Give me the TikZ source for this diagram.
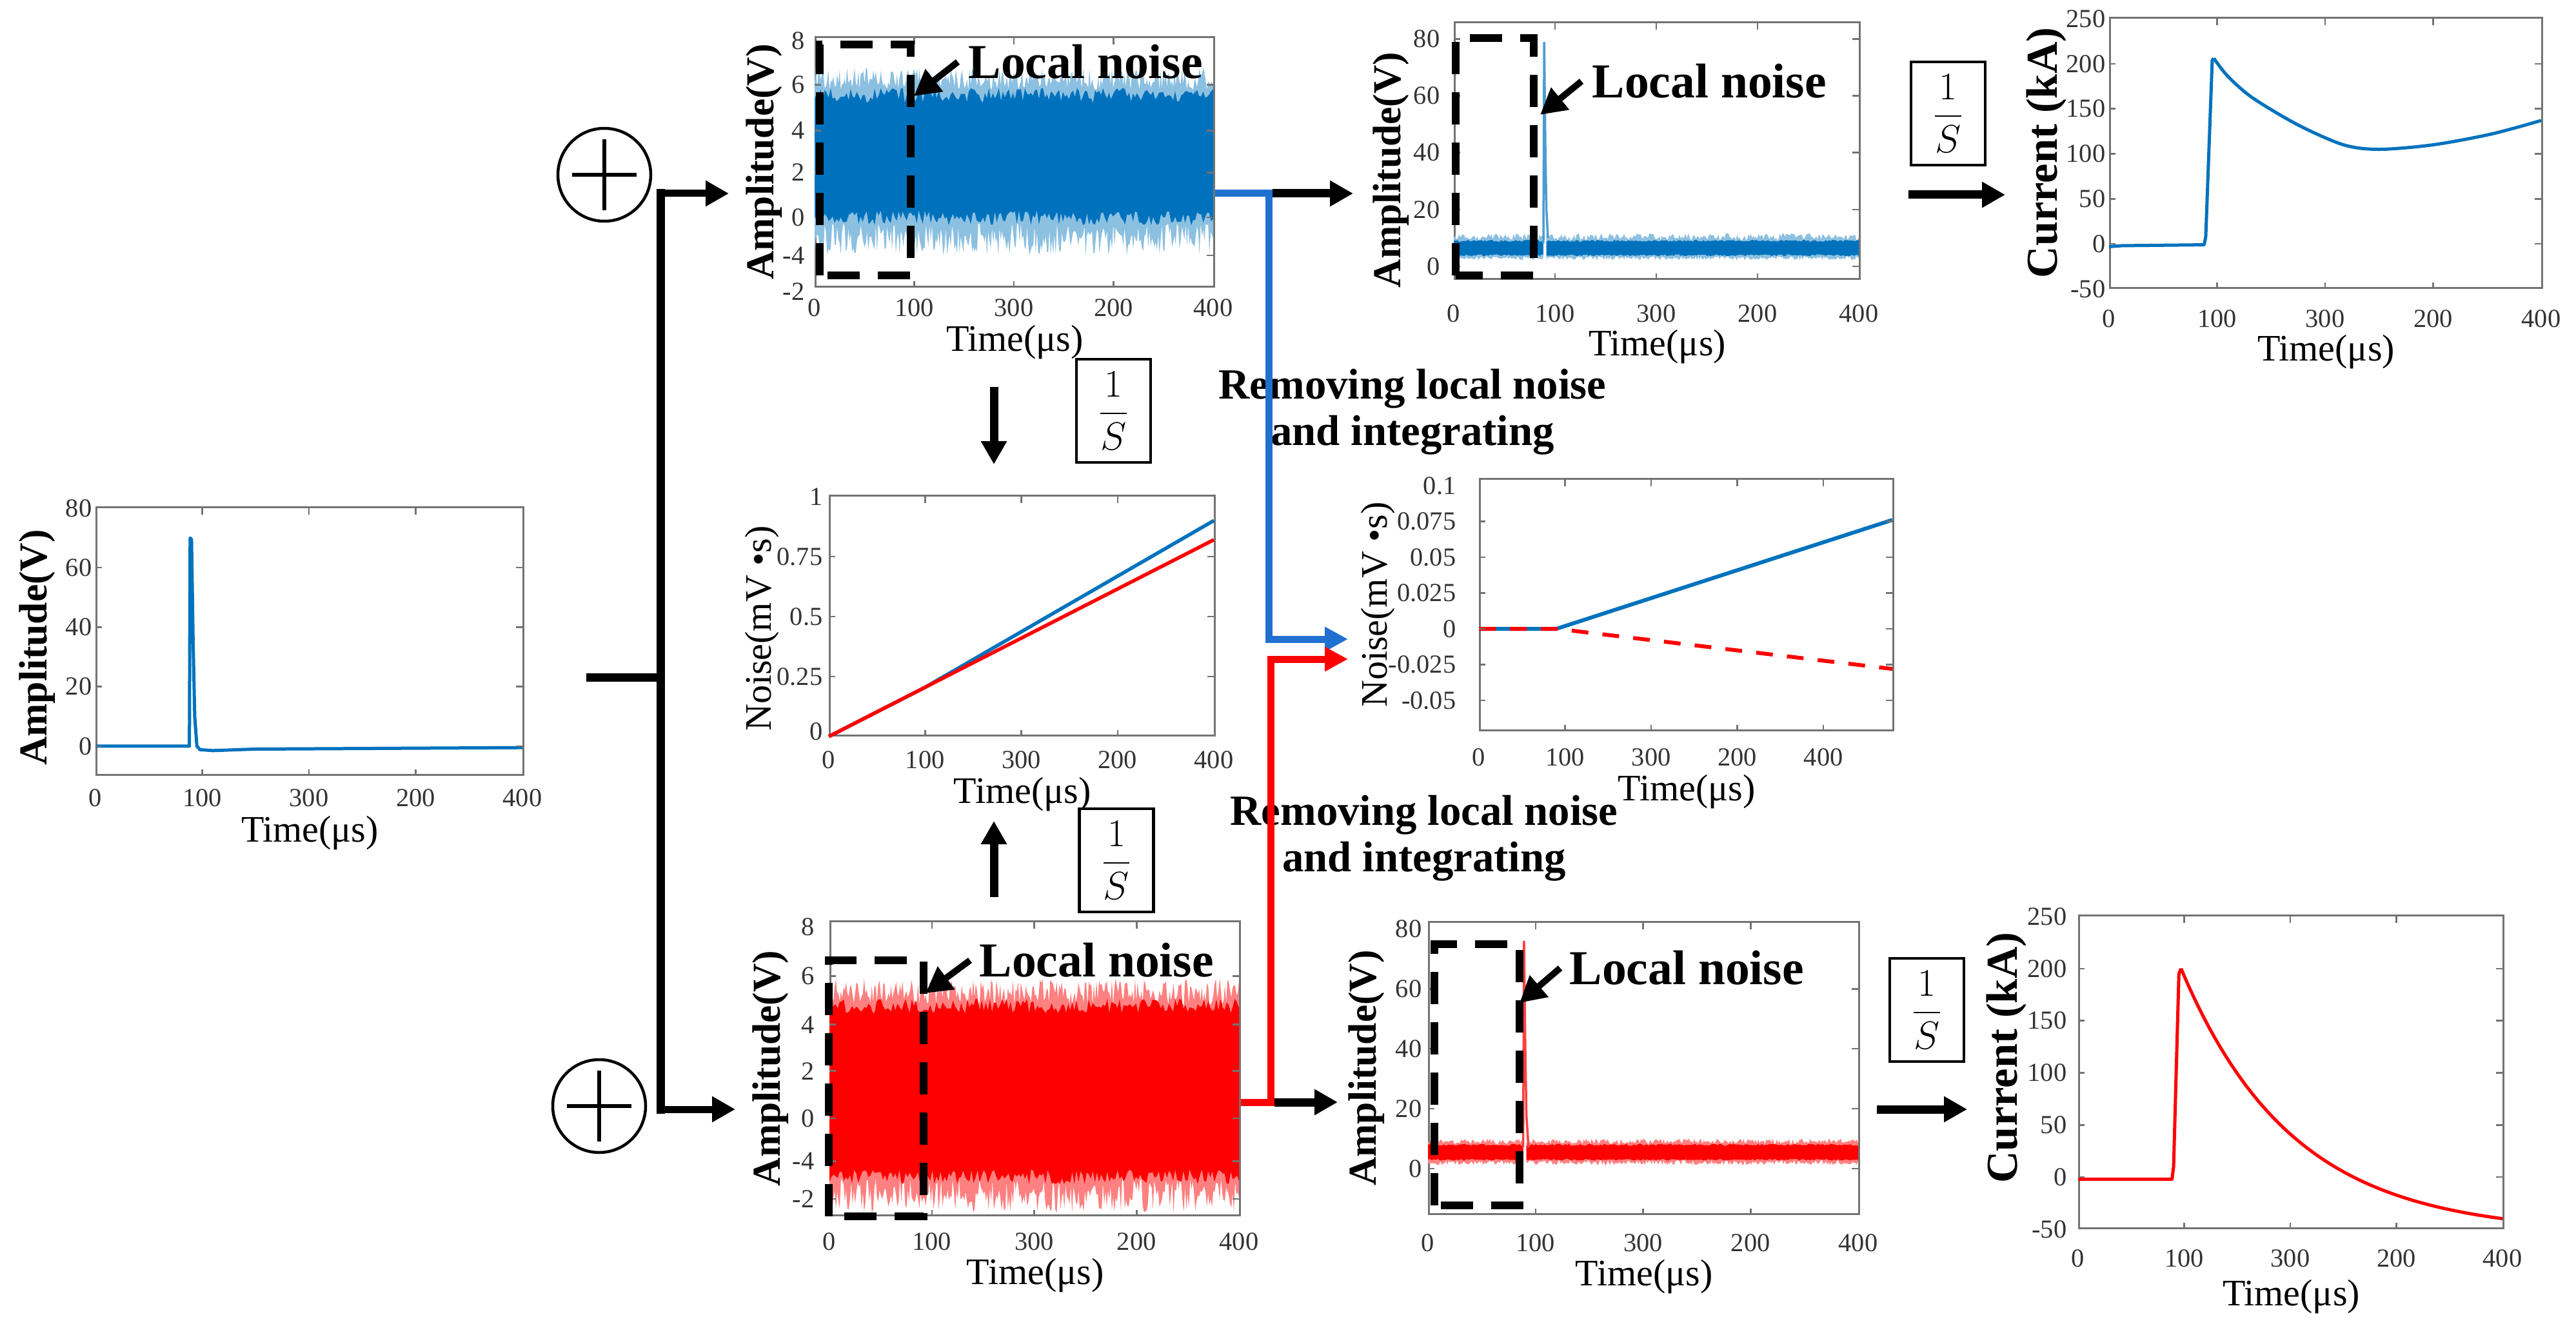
\documentclass[tikz,border=0pt]{standalone}
\usepackage{fontspec}
\setmainfont{Liberation Serif}
\usetikzlibrary{positioning,arrows.meta}
\definecolor{mblue}{RGB}{0,114,189}
\definecolor{linkblue}{RGB}{32,112,208}

\begin{document}
\begin{tikzpicture}[x=1mm, y=1mm]

\tikzstyle{axisbox} = [draw=black!55, line width=0.3mm, inner sep=0, anchor=south west]
\tikzstyle{tickmark} = [draw=black!55, line width=0.25mm]
\tikzstyle{ticklab} = [font=\fontsize{11.5}{11.5}\selectfont, text=black!80, inner sep=0.3mm]
\tikzstyle{timelab} = [font=\fontsize{16.5}{17}\selectfont, inner sep=0]
\tikzstyle{ytitle} = [font=\bfseries\fontsize{17.5}{18}\selectfont, rotate=90, inner sep=0]
\tikzstyle{ctitle} = [font=\bfseries\fontsize{19.5}{20}\selectfont, rotate=90, inner sep=0]
\tikzstyle{ntitle} = [font=\fontsize{16.5}{17}\selectfont, rotate=90, inner sep=0]
\tikzstyle{notelab} = [font=\bfseries\fontsize{21.5}{22}\selectfont, inner sep=0, anchor=west]
\tikzstyle{steplab} = [font=\bfseries\fontsize{19}{20.5}\selectfont, align=center, inner sep=0]
\tikzstyle{intbox} = [draw, line width=0.45mm, minimum width=11.5mm, minimum height=16mm, inner sep=0, font=\fontsize{16}{16}\selectfont]
\tikzstyle{sumnode} = [circle, draw, line width=0.45mm, minimum size=14.4mm, inner sep=0]
\tikzstyle{dashbox} = [draw, line width=1.25mm, dash pattern=on 5mm off 2.8mm]
\tikzstyle{flow} = [draw, line width=1.3mm, -{Triangle[length=3.6mm,width=3.8mm]}]
\tikzstyle{trunk} = [draw, line width=1.3mm]
\tikzstyle{bluelink} = [draw=linkblue, line width=1.1mm]
\tikzstyle{redlink} = [draw=red, line width=1.1mm]
\tikzstyle{linkhead} = [-{Triangle[length=3.6mm,width=3.6mm]}]
\tikzstyle{notearrow} = [draw, line width=1mm, -{Triangle[length=4mm,width=4.2mm]}]
\tikzstyle{blueline} = [draw=mblue, line width=0.5mm, line join=round]
\tikzstyle{redline} = [draw=red, line width=0.5mm, line join=round]

\useasboundingbox (0,0) rectangle (399.4,206.9);
\pgfmathsetseed{42}

% plot frames
\node[axisbox, minimum width=66.2mm, minimum height=41.5mm] (p0) at (14.8,86.6) {};
\node[axisbox, minimum width=61.8mm, minimum height=38.7mm] (p1) at (126.3,162.3) {};
\node[axisbox, minimum width=62.8mm, minimum height=39.8mm] (p2) at (225.4,163.5) {};
\node[axisbox, minimum width=67.0mm, minimum height=41.9mm] (p3) at (327.0,162.1) {};
\node[axisbox, minimum width=59.7mm, minimum height=37.2mm] (p5) at (128.5,92.7) {};
\node[axisbox, minimum width=64.1mm, minimum height=39.0mm] (p6) at (229.3,93.5) {};
\node[axisbox, minimum width=63.5mm, minimum height=45.6mm] (p4) at (128.6,18.3) {};
\node[axisbox, minimum width=66.7mm, minimum height=45.3mm] (p7) at (221.4,18.5) {};
\node[axisbox, minimum width=65.8mm, minimum height=48.5mm] (p8) at (322.2,16.3) {};

% input signal
\begin{scope}[shift={(p0.south west)}, x=0.1655mm, y=0.4611mm, yshift=4.611mm]
  \draw[blueline] (0,0) -- (88,0) -- (88.7,70) -- (90,69.5) -- (91.5,35) -- (93,10) -- (95,0) -- (98,-1.2) -- (110,-1.5) -- (150,-1) -- (250,-0.8) -- (400,-0.5);
  \foreach \v in {0,20,40,60,80} \node[ticklab, left=0.2mm] at (0,\v) {\v};
  \foreach \t/\l in {0/0,100/100,200/300,300/200,400/400} \node[ticklab] at ([yshift=-3.4mm]\t,-10) {\l};
  \foreach \t in {100,200,300} \draw[tickmark] (\t,-10) -- ++(0,1mm) (\t,80) -- ++(0,-1mm);
  \foreach \v in {0,20,40,60} \draw[tickmark] (0,\v) -- ++(1mm,0) (400,\v) -- ++(-1mm,0);
\end{scope}
\node[timelab] at ([yshift=-8.9mm]p0.south) {Time(μs)};
\node[ytitle] at ([xshift=-9mm, yshift=-1mm]p0.west) {Amplitude(V)};

% blue noise
\begin{scope}[shift={(p1.south west)}, x=0.1545mm, y=38.7mm]
  \fill[mblue!45!white] plot[domain=0:400, samples=320] (\x,{0.79+0.09*rnd}) -- plot[domain=400:0, samples=320] (\x,{0.26-0.13*rnd}) -- cycle;
  \fill[mblue] plot[domain=0:400, samples=200] (\x,{0.74+0.06*rnd}) -- plot[domain=400:0, samples=200] (\x,{0.31-0.06*rnd}) -- cycle;
  \foreach \f/\l in {0.99/8,0.812/6,0.629/4,0.461/2,0.282/0,0.129/-4,-0.015/-2} \node[ticklab, left=1.2mm] at (0,\f) {\l};
  \foreach \f in {0.812,0.629,0.461,0.282,0.129} \draw[tickmark] (0,\f) -- ++(1mm,0) (400,\f) -- ++(-1mm,0);
  \foreach \t/\l in {0/0,100/100,200/300,300/200,400/400} \node[ticklab] at ([yshift=-3.1mm]\t,0) {\l};
  \foreach \t in {100,200,300} \draw[tickmark] (\t,0) -- ++(0,1mm) (\t,1) -- ++(0,-1mm);
\end{scope}
\node[timelab] at ([yshift=-8.5mm]p1.south) {Time(μs)};
\node[ytitle] at ([xshift=-7.8mm]p1.west) {Amplitude(V)};

% blue noise after removal
\begin{scope}[shift={(p2.south west)}, x=0.157mm, y=0.4403mm, yshift=2.113mm]
  \fill[mblue!45!white] plot[domain=0:88.5, samples=70] (\x,{9.2+2.4*rnd}) -- plot[domain=88.5:0, samples=70] (\x,{3.6-1.4*rnd}) -- cycle;
  \fill[mblue!45!white] plot[domain=91.5:400, samples=250] (\x,{9.2+2.4*rnd}) -- plot[domain=400:91.5, samples=250] (\x,{3.6-1.4*rnd}) -- cycle;
  \fill[mblue] plot[domain=0:88.5, samples=50] (\x,{8.6+0.7*rnd}) -- plot[domain=88.5:0, samples=50] (\x,{4.2-0.6*rnd}) -- cycle;
  \fill[mblue] plot[domain=91.5:400, samples=180] (\x,{8.6+0.7*rnd}) -- plot[domain=400:91.5, samples=180] (\x,{4.2-0.6*rnd}) -- cycle;
  \draw[mblue!70!white, line width=0.35mm] (88.5,8) -- (89.3,79) -- (90.5,40) -- (91.5,20) -- (93,10);
  \foreach \v in {0,20,40,60,80} \node[ticklab, left=1.8mm] at (0,\v) {\v};
  \foreach \v in {0,20,40,60,80} \draw[tickmark] (0,\v) -- ++(1mm,0) (400,\v) -- ++(-1mm,0);
  \foreach \t/\l in {0/0,100/100,200/300,300/200,400/400} \node[ticklab] at ([yshift=-5.2mm]\t,-4.8) {\l};
  \foreach \t in {100,200,300} \draw[tickmark] (\t,-4.8) -- ++(0,1mm) (\t,85.6) -- ++(0,-1mm);
\end{scope}
\node[timelab] at ([yshift=-10.4mm]p2.south) {Time(μs)};
\node[ytitle] at ([xshift=-9.75mm, yshift=-3mm]p2.west) {Amplitude(V)};

% blue current
\begin{scope}[shift={(p3.south west)}, x=0.1675mm, y=0.13967mm, yshift=6.983mm]
  \draw[blueline] (0,-3) -- (12,-2) -- (88,-1) -- (89.5,8) -- (95.5,204) -- (97,206);
  \draw[blueline] plot[smooth] coordinates {(97,206) (110,186) (133,162) (175,132) (217,110) (250,105) (300,110) (354,122) (400,137)};
  \foreach \v in {-50,0,50,100,150,200,250} \node[ticklab, left=0.2mm] at (0,\v) {\v};
  \foreach \v in {0,50,100,150,200} \draw[tickmark] (0,\v) -- ++(1mm,0) (400,\v) -- ++(-1mm,0);
  \foreach \t/\l in {0/0,100/100,200/300,300/200,400/400} \node[ticklab] at ([yshift=-4.6mm]\t,-50) {\l};
  \foreach \t in {100,200,300} \draw[tickmark] (\t,-50) -- ++(0,1mm) (\t,250) -- ++(0,-1mm);
\end{scope}
\node[timelab] at ([yshift=-9.8mm]p3.south) {Time(μs)};
\node[ctitle] at ([xshift=-9.7mm]p3.west) {Current (kA)};

% integrated noise
\begin{scope}[shift={(p5.south west)}, x=0.14925mm, y=37.2mm]
  \draw[blueline, line width=0.55mm] (0,0) -- (100,0.205) -- (400,0.9);
  \draw[redline, line width=0.55mm] (0,0) -- (400,0.82);
  \foreach \v/\l in {1/1,0.75/0.75,0.5/0.5,0.25/0.25,0.02/0} \node[ticklab, left=0.6mm] at (0,\v) {\l};
  \foreach \v in {0.25,0.5,0.75} \draw[tickmark] (0,\v) -- ++(1mm,0) (400,\v) -- ++(-1mm,0);
  \foreach \t/\l in {0/0,100/100,200/300,300/200,400/400} \node[ticklab] at ([yshift=-3.6mm]\t,0) {\l};
  \foreach \t in {100,200,300} \draw[tickmark] (\t,0) -- ++(0,1mm) (\t,1) -- ++(0,-1mm);
\end{scope}
\node[timelab] at ([yshift=-9mm]p5.south) {Time(μs)};
\node[ntitle] at ([xshift=-10.3mm, yshift=-2mm]p5.west) {Noise(mV •s)};

% residual noise
\begin{scope}[shift={(p6.south west)}, x=0.13354mm, y=222.1mm, yshift=15.9mm]
  \draw[blueline, line width=0.6mm] (0,0) -- (90,0) -- (480,0.076);
  \draw[redline, line width=0.6mm, dash pattern=on 2.6mm off 2.2mm] (0,0) -- (90,0) -- (480,-0.028);
  \foreach \v in {0.1,0.075,0.05,0.025,0,-0.025,-0.05} \node[ticklab, left=3.2mm] at (0,\v) {\v};
  \foreach \v in {0.075,0.05,0.025,0,-0.025,-0.05} \draw[tickmark] (0,\v) -- ++(1mm,0) (480,\v) -- ++(-1mm,0);
  \foreach \t/\l in {0/0,100/100,200/300,300/200,400/400} \node[ticklab] at ([yshift=-4mm]\t,-0.0716) {\l};
  \foreach \t in {100,200,300,400} \draw[tickmark] (\t,-0.0716) -- ++(0,1mm) (\t,0.104) -- ++(0,-1mm);
\end{scope}
\node[timelab] at ([yshift=-9.4mm]p6.south) {Time(μs)};
\node[ntitle] at ([xshift=-15.6mm]p6.west) {Noise(mV •s)};

% red noise
\begin{scope}[shift={(p4.south west)}, x=0.15875mm, y=45.6mm]
  \fill[red!50!white] plot[domain=0:400, samples=320] (\x,{0.72+0.09*rnd}) -- plot[domain=400:0, samples=320] (\x,{0.13-0.12*rnd}) -- cycle;
  \fill[red] plot[domain=0:400, samples=200] (\x,{0.69+0.05*rnd}) -- plot[domain=400:0, samples=200] (\x,{0.16-0.05*rnd}) -- cycle;
  \foreach \f/\l in {0.984/8,0.817/6,0.652/4,0.494/2,0.333/0,0.188/-4,0.059/-2} \node[ticklab, left=2mm] at (0,\f) {\l};
  \foreach \f in {0.817,0.652,0.494,0.333,0.188,0.059} \draw[tickmark] (0,\f) -- ++(1mm,0) (400,\f) -- ++(-1mm,0);
  \foreach \t/\l in {0/0,100/100,200/300,300/200,400/400} \node[ticklab] at ([yshift=-3.9mm]\t,0) {\l};
  \foreach \t in {100,200,300} \draw[tickmark] (\t,0) -- ++(0,1mm) (\t,1) -- ++(0,-1mm);
\end{scope}
\node[timelab] at ([yshift=-9.2mm]p4.south) {Time(μs)};
\node[ytitle] at ([xshift=-9.1mm]p4.west) {Amplitude(V)};

% red noise after removal
\begin{scope}[shift={(p7.south west)}, x=0.16675mm, y=0.4646mm, yshift=7.2mm]
  \fill[red!50!white] plot[domain=0:88.5, samples=70] (\x,{8.2+1.8*rnd}) -- plot[domain=88.5:0, samples=70] (\x,{2.8-1.6*rnd}) -- cycle;
  \fill[red!50!white] plot[domain=91.5:400, samples=250] (\x,{8.2+1.8*rnd}) -- plot[domain=400:91.5, samples=250] (\x,{2.8-1.6*rnd}) -- cycle;
  \fill[red] plot[domain=0:88.5, samples=50] (\x,{7.6+0.7*rnd}) -- plot[domain=88.5:0, samples=50] (\x,{3.3-0.6*rnd}) -- cycle;
  \fill[red] plot[domain=91.5:400, samples=180] (\x,{7.6+0.7*rnd}) -- plot[domain=400:91.5, samples=180] (\x,{3.3-0.6*rnd}) -- cycle;
  \draw[red!75!white, line width=0.35mm] (88.5,7) -- (89.3,76) -- (90.5,40) -- (91.5,18) -- (93.5,7);
  \foreach \v in {0,20,40,60,80} \node[ticklab, left=0.6mm] at (0,\v) {\v};
  \foreach \v in {0,20,40,60} \draw[tickmark] (0,\v) -- ++(1mm,0) (400,\v) -- ++(-1mm,0);
  \foreach \t/\l in {0/0,100/100,200/300,300/200,400/400} \node[ticklab] at ([yshift=-4.3mm]\t,-15.5) {\l};
  \foreach \t in {100,200,300} \draw[tickmark] (\t,-15.5) -- ++(0,1mm) (\t,82) -- ++(0,-1mm);
\end{scope}
\node[timelab] at ([yshift=-9.6mm]p7.south) {Time(μs)};
\node[ytitle] at ([xshift=-9.5mm]p7.west) {Amplitude(V)};

% red current
\begin{scope}[shift={(p8.south west)}, x=0.1645mm, y=0.16167mm, yshift=8.083mm]
  \draw[redline] (0,-2) -- (88.5,-2) -- (90,10) -- (95,195) -- (97,200);
  \draw[redline] plot[domain=97:400, samples=80] (\x,{254*exp(-(\x-97)/105)-54});
  \foreach \v in {-50,0,50,100,150,200,250} \node[ticklab, left=1.4mm] at (0,\v) {\v};
  \foreach \v in {0,50,100,150,200} \draw[tickmark] (0,\v) -- ++(1mm,0) (400,\v) -- ++(-1mm,0);
  \foreach \t/\l in {0/0,100/100,200/300,300/200,400/400} \node[ticklab] at ([yshift=-4.5mm]\t,-50) {\l};
  \foreach \t in {100,200,300} \draw[tickmark] (\t,-50) -- ++(0,1mm) (\t,250) -- ++(0,-1mm);
\end{scope}
\node[timelab] at ([yshift=-10.5mm]p8.south) {Time(μs)};
\node[ctitle] at ([xshift=-11.1mm, yshift=2.2mm]p8.west) {Current (kA)};

% local noise windows
\draw[dashbox] (127.1,164.2) rectangle (141.2,200.0);
\draw[dashbox] (225.7,164.2) rectangle (237.8,201.0);
\draw[dashbox] (128.5,18.3) rectangle (143.2,58.0);
\draw[dashbox] (222.4,20.0) rectangle (235.6,60.5);

\node[notelab] (ln1) at (150.1,197.3) {Local noise};
\node[notelab] (ln2) at (246.8,194.3) {Local noise};
\node[notelab] (ln3) at (151.8,58.0) {Local noise};
\node[notelab] (ln4) at (243.3,56.8) {Local noise};
\coordinate (tip1) at (141.7,192.0);
\coordinate (tip2) at (238.8,189.1);
\coordinate (tip3) at (143.5,52.9);
\coordinate (tip4) at (235.6,51.4);
\draw[notearrow] ([xshift=-1.6mm]ln1.west) -- (tip1);
\draw[notearrow] ([xshift=-1.6mm]ln2.west) -- (tip2);
\draw[notearrow] ([xshift=-1.4mm]ln3.west) -- (tip3);
\draw[notearrow] ([xshift=-1.4mm]ln4.west) -- (tip4);

% steps
\node[steplab] (rm1) at (219.0,143.0) {Removing local noise\\and integrating};
\node[steplab] (rm2) at (220.8,76.9) {Removing local noise\\and integrating};

\node[intbox] (s1) at (172.65,143.2) {$\displaystyle\frac{1}{S}$};
\node[intbox] (s2) at (173.1,73.5) {$\displaystyle\frac{1}{S}$};
\node[intbox] (s3) at (302.05,189.3) {$\displaystyle\frac{1}{S}$};
\node[intbox] (s4) at (298.75,50.3) {$\displaystyle\frac{1}{S}$};

\node[sumnode] (sum1) at (93.7,179.8) {};
\node[sumnode] (sum2) at (92.9,35.4) {};
\draw[line width=0.6mm] ([xshift=-5mm]sum1.center) -- ([xshift=5mm]sum1.center) ([yshift=-5.5mm]sum1.center) -- ([yshift=5.5mm]sum1.center);
\draw[line width=0.6mm] ([xshift=-5mm]sum2.center) -- ([xshift=5mm]sum2.center) ([yshift=-5.5mm]sum2.center) -- ([yshift=5.5mm]sum2.center);

% splitting the input
\coordinate (in) at (90.9,101.9);
\coordinate (split) at (102.4,101.9);
\coordinate (t1) at (102.4,176.9);
\coordinate (t2) at (102.4,34.9);
\coordinate (f1) at (113.0,176.9);
\coordinate (f2) at (114.0,34.9);
\draw[trunk] (in) -- (split);
\draw[trunk] ([yshift=0.65mm]t1) -- ([yshift=-0.65mm]t2);
\draw[flow, line width=1.1mm] (t1) -- (f1);
\draw[flow, line width=1.1mm] (t2) -- (f2);

% integration arrows
\coordinate (d1) at (154.1,146.9);
\coordinate (d2) at (154.1,134.9);
\coordinate (u1) at (154.1,67.8);
\coordinate (u2) at (154.1,79.6);
\draw[flow] (d1) -- (d2);
\draw[flow] (u1) -- (u2);
\coordinate (r1) at (295.9,176.7);
\coordinate (r2) at (310.9,176.7);
\coordinate (r3) at (291.0,34.9);
\coordinate (r4) at (305.0,34.9);
\draw[flow] (r1) -- (r2);
\draw[flow] (r3) -- (r4);

% blue branch
\coordinate (o1) at (196.7,176.9);
\coordinate (e1) at (209.8,176.9);
\coordinate (e2) at (209.0,107.8);
\draw[bluelink] (p1.east |- o1) -- (o1);
\draw[bluelink, linkhead] ([yshift=0.55mm]o1) |- (e2);
\draw[flow] ([xshift=0.55mm]o1) -- (e1);

% red branch
\coordinate (o2) at (197.0,36.0);
\coordinate (e3) at (207.4,36.0);
\coordinate (e4) at (209.0,104.7);
\draw[redlink] (p4.east |- o2) -- (o2);
\draw[redlink, linkhead] ([yshift=-0.55mm]o2) |- (e4);
\draw[flow] ([xshift=0.55mm]o2) -- (e3);

\end{tikzpicture}
\end{document}
